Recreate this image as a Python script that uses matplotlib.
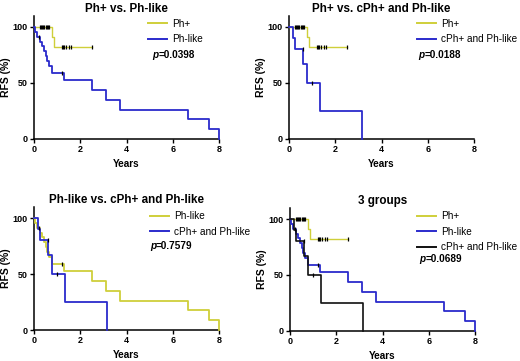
import matplotlib
matplotlib.use("Agg")
import matplotlib.pyplot as plt
from matplotlib.lines import Line2D

plt.rcParams['font.family'] = ['Liberation Sans', 'DejaVu Sans']

# ---- data ----
php_t = [0, 0.77, 0.85, 2.5]
php_s = [100, 90.9, 81.8, 81.8]
php_ct = [0.25, 0.3, 0.35, 0.4, 0.45, 0.5, 0.55, 0.6, 0.65, 1.2, 1.25, 1.3, 1.4, 1.5, 1.6, 2.5]
php_cs = [100, 100, 100, 100, 100, 100, 100, 100, 100, 81.8, 81.8, 81.8, 81.8, 81.8, 81.8, 81.8]

phl_t = [0, 0.05, 0.15, 0.27, 0.35, 0.45, 0.5, 0.57, 0.65, 0.78, 1.3, 2.5, 3.12, 3.7, 6.65, 7.58, 8.0]
phl_s = [100, 95.7, 91.3, 87.0, 82.6, 78.3, 73.9, 69.6, 65.2, 59.2, 52.6, 43.8, 35.1, 26.3, 17.5, 8.8, 0]
phl_ct = [0.2, 1.2]
phl_cs = [91.3, 59.2]

cph_t = [0, 0.18, 0.28, 0.62, 0.77, 1.33, 3.17]
cph_s = [100, 90, 80, 66.7, 50, 25, 0]
cph_ct = [0.62, 1.0]
cph_cs = [80, 50]

YEL = '#cfcf3a'
BLU = '#2b2bcc'
BLK = '#111111'

fig = plt.figure(figsize=(5.2, 3.61), dpi=100)

W, H = 185 / 520, 123.2 / 361
pos = [(34 / 520, 1 - 139 / 361), (289 / 520, 1 - 139 / 361),
       (34 / 520, 1 - 330 / 361), (290 / 520, 1 - 331 / 361)]

panels = [
    ("Ph+ vs. Ph-like", [(php_t, php_s, php_ct, php_cs, YEL, 'Ph+', 1.0),
                         (phl_t, phl_s, phl_ct, phl_cs, BLU, 'Ph-like', 1.3)],
     "0.0398", 0.616, 0.978, 0.638, 0.682),
    ("Ph+ vs. cPh+ and Ph-like", [(php_t, php_s, php_ct, php_cs, YEL, 'Ph+', 1.0),
                                  (cph_t, cph_s, cph_ct, cph_cs, BLU, 'cPh+ and Ph-like', 1.3)],
     "0.0188", 0.69, 0.978, 0.70, 0.682),
    ("Ph-like vs. cPh+ and Ph-like", [(phl_t, phl_s, phl_ct, phl_cs, YEL, 'Ph-like', 1.3),
                                      (cph_t, cph_s, cph_ct, cph_cs, BLU, 'cPh+ and Ph-like', 1.3)],
     "0.7579", 0.627, 0.962, 0.627, 0.682),
    ("3 groups", [(php_t, php_s, php_ct, php_cs, YEL, 'Ph+', 1.0),
                  (phl_t, phl_s, phl_ct, phl_cs, BLU, 'Ph-like', 1.3),
                  (cph_t, cph_s, cph_ct, cph_cs, BLK, 'cPh+ and Ph-like', 1.2)],
     "0.0689", 0.686, 0.97, 0.70, 0.584),
]

for (l, b), (title, series, pval, lx, ly, px, py) in zip(pos, panels):
    ax = fig.add_axes([l, b, W, H])
    handles = []
    for t, s, ct, cs, col, lab, lw in series:
        ax.step(t, s, where='post', color=col, lw=lw, clip_on=False, zorder=3)
        ax.plot(ct, cs, ls='none', marker='|', ms=2.8, mew=0.9, color='black', clip_on=False, zorder=4)
        handles.append(Line2D([], [], color=col, lw=1.4, label=lab))
    ax.set_xlim(0, 8)
    ax.set_ylim(0, 110)
    ax.set_xticks([0, 2, 4, 6, 8])
    ax.set_yticks([0, 50, 100])
    for sp in ['top', 'right']:
        ax.spines[sp].set_visible(False)
    for sp in ['left', 'bottom']:
        ax.spines[sp].set_linewidth(1.1)
    ax.tick_params(direction='out', length=3, width=1.0, labelsize=6.5, pad=1.5)
    for lbl in ax.get_xticklabels() + ax.get_yticklabels():
        lbl.set_fontweight('bold')
    ax.set_xlabel('Years', fontsize=7.2, fontweight='bold', labelpad=3.5)
    ax.set_ylabel('RFS (%)', fontsize=7.5, fontweight='bold', labelpad=1.2)
    ax.set_title(title, fontsize=8.4, fontweight='bold', pad=2.5)
    ax.legend(handles=handles, loc='upper left', bbox_to_anchor=(lx, ly),
              frameon=False, fontsize=7.2, handlelength=1.9, handletextpad=0.5,
              labelspacing=0.55, borderpad=0, borderaxespad=0)
    tp = ax.text(px, py, 'p', style='italic', fontweight='bold', fontsize=7.2,
                 transform=ax.transAxes, va='center')
    ax.annotate('=' + pval, xy=(1, 0.5), xycoords=tp, va='center', fontsize=7.2, fontweight='bold')

fig.savefig('out.png', dpi=100)
